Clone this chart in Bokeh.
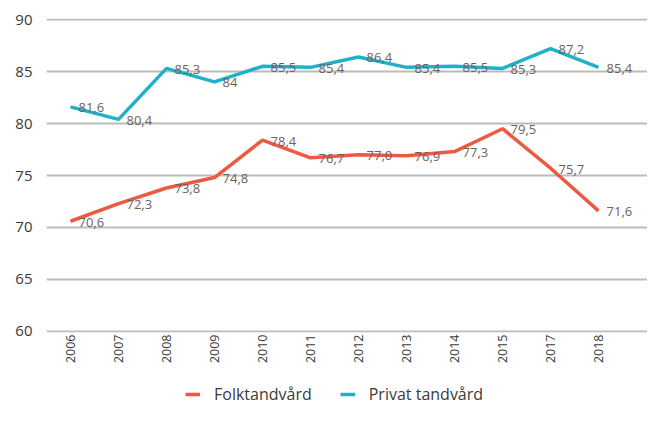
import math
from bokeh.plotting import figure
from bokeh.layouts import column
from bokeh.models import ColumnDataSource, Range1d, FixedTicker, Legend, LegendItem
from bokeh.embed import file_html
from bokeh.resources import INLINE
from bokeh.core.properties import value

years = ["2006", "2007", "2008", "2009", "2010", "2011", "2012", "2013", "2014", "2015", "2017", "2018"]
folk = [70.6, 72.3, 73.8, 74.8, 78.4, 76.7, 77.0, 76.9, 77.3, 79.5, 75.7, 71.6]
privat = [81.6, 80.4, 85.3, 84.0, 85.5, 85.4, 86.4, 85.4, 85.5, 85.3, 87.2, 85.4]
folk_labels = ["70,6", "72,3", "73,8", "74,8", "78,4", "76,7", "77,0", "76,9", "77,3", "79,5", "75,7", "71,6"]
privat_labels = ["81,6", "80,4", "85,3", "84", "85,5", "85,4", "86,4", "85,4", "85,5", "85,3", "87,2", "85,4"]
series_names = ["Folktandvård", "Privat tandvård"]
y_ticks = [60, 65, 70, 75, 80, 85, 90]

FONT = "Open Sans"
RED = "#ec5a41"
TEAL = "#1fb1c7"
LABEL_COLOR = "#6d6262"
TICK_COLOR = "#3a3a3a"

xs = list(range(len(years)))
src_f = ColumnDataSource(dict(x=xs, y=folk, t=folk_labels))
src_p = ColumnDataSource(dict(x=xs, y=privat, t=privat_labels))

p = figure(width=647, height=380, output_backend="svg", toolbar_location=None,
           x_range=Range1d(-0.5, 12.02), y_range=Range1d(59.9, 90.1),
           min_border_left=46, min_border_right=0, min_border_top=18, min_border_bottom=48)
p.outline_line_color = None
p.background_fill_color = "white"
p.border_fill_color = "white"

# axes
p.xaxis.ticker = FixedTicker(ticks=xs)
p.xaxis.major_label_overrides = {i: y for i, y in enumerate(years)}
p.xaxis.major_label_orientation = math.pi / 2
p.xaxis.major_label_text_font = FONT
p.xaxis.major_label_text_font_size = "12.5px"
p.xaxis.major_label_text_color = TICK_COLOR
p.xaxis.major_label_standoff = 2
p.xaxis.axis_line_color = None
p.xaxis.major_tick_line_color = None
p.xaxis.minor_tick_line_color = None
p.xaxis.major_tick_out = 0

p.yaxis.ticker = FixedTicker(ticks=y_ticks)
p.yaxis.major_label_text_font = FONT
p.yaxis.major_label_text_font_size = "15px"
p.yaxis.major_label_text_color = TICK_COLOR
p.yaxis.major_label_standoff = 14
p.yaxis.axis_line_color = None
p.yaxis.major_tick_line_color = None
p.yaxis.minor_tick_line_color = None
p.yaxis.major_tick_out = 0

p.xgrid.grid_line_color = None
p.ygrid.grid_line_color = "#bcbcbc"
p.ygrid.grid_line_width = 2

# lines
p.line("x", "y", source=src_f, line_color=RED, line_width=3.5)
p.line("x", "y", source=src_p, line_color=TEAL, line_width=3.5)

# data labels
for src in (src_f, src_p):
    p.text("x", "y", text="t", source=src, text_font=value(FONT), text_font_size="13px",
           text_color=LABEL_COLOR, text_baseline="middle", text_align="left",
           x_offset=8, y_offset=1)

# legend strip (its lines fall outside its view, only the legend shows)
lg = figure(width=647, height=25, output_backend="svg", toolbar_location=None,
            x_range=Range1d(100, 101), y_range=Range1d(0, 1),
            x_axis_location=None, y_axis_location=None,
            min_border=0, min_border_left=0, min_border_right=0, min_border_top=0, min_border_bottom=0)
lg.grid.visible = False
lg.outline_line_color = None
lg.border_fill_color = "white"
l_f = lg.line("x", "y", source=src_f, line_color=RED, line_width=3.5)
l_p = lg.line("x", "y", source=src_p, line_color=TEAL, line_width=3.5)
legend = Legend(items=[LegendItem(label=series_names[0], renderers=[l_f]),
                       LegendItem(label=series_names[1], renderers=[l_p])],
                orientation="horizontal", location=(139, 0),
                label_text_font=FONT, label_text_font_size="16px", label_text_color=TICK_COLOR,
                glyph_width=15, glyph_height=16, label_height=16, label_standoff=14,
                spacing=28, padding=0, margin=0,
                border_line_color=None, background_fill_alpha=0)
lg.add_layout(legend, "center")

layout = column(p, lg, spacing=0)
open("out.html", "w").write(file_html(layout, INLINE))
